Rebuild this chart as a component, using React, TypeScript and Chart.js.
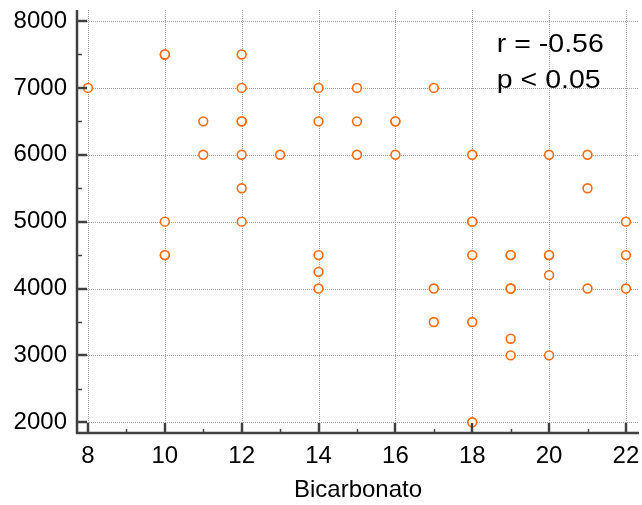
import React, { useEffect, useRef } from "react";
import { Chart, registerables } from "chart.js";

Chart.register(...registerables);

// Data: (Bicarbonato, value) pairs
const bicarbonato = [
  8,
  10, 10, 10, 10, 10,
  11, 11,
  12, 12, 12, 12, 12, 12, 12,
  13,
  14, 14, 14, 14, 14,
  15, 15, 15,
  16, 16, 16,
  17, 17, 17,
  18, 18, 18, 18, 18, 18,
  19, 19, 19, 19, 19, 19,
  20, 20, 20, 20, 20,
  21, 21, 21,
  22, 22, 22,
];
const valores = [
  7000,
  7500, 7500, 5000, 4500, 4500,
  6500, 6000,
  7500, 7000, 6500, 6500, 6000, 5500, 5000,
  6000,
  7000, 6500, 4500, 4250, 4000,
  7000, 6500, 6000,
  6500, 6500, 6000,
  7000, 4000, 3500,
  6000, 5000, 5000, 4500, 3500, 2000,
  4500, 4500, 4000, 4000, 3250, 3000,
  6000, 4500, 4500, 4200, 3000,
  6000, 5500, 4000,
  5000, 4500, 4000,
];

const X_TICKS = [8, 10, 12, 14, 16, 18, 20, 22];
const Y_TICKS = [2000, 3000, 4000, 5000, 6000, 7000, 8000];
const X_MINOR_TICKS = [9, 11, 13, 15, 17, 19, 21];
const Y_MINOR_TICKS = [2500, 3500, 4500, 5500, 6500, 7500];
const X_MIN = 7.714;
const X_MAX = 22.34;
const Y_MIN = 1840;
const Y_MAX = 8165;

const xTitle = "Bicarbonato";
const annotationLines = ["r = -0.56", "p < 0.05"];
const annotationX = 18.64; // data units
const annotationY = [7540, 7000]; // baselines, data units

const ORANGE = "#ff6a0d";
const AXIS = "#404040";
const GRID = "#a0a0a0";
const FONT = "'Liberation Sans', Arial, sans-serif";

const decoPlugin = {
  id: "deco",
  beforeDatasetsDraw(chart: any) {
    const { ctx, chartArea: a, scales } = chart;
    const x = scales.x;
    const y = scales.y;
    ctx.save();
    ctx.strokeStyle = GRID;
    ctx.lineWidth = 1;
    ctx.setLineDash([1, 1]);
    for (const v of X_TICKS) {
      const px = Math.round(x.getPixelForValue(v)) + 0.5;
      ctx.beginPath();
      ctx.moveTo(px, a.top);
      ctx.lineTo(px, a.bottom);
      ctx.stroke();
    }
    for (const v of Y_TICKS) {
      const py = Math.round(y.getPixelForValue(v)) + 0.5;
      ctx.beginPath();
      ctx.moveTo(a.left, py);
      ctx.lineTo(a.right, py);
      ctx.stroke();
    }
    ctx.restore();
  },
  afterDatasetsDraw(chart: any) {
    const { ctx, chartArea: a, scales } = chart;
    const x = scales.x;
    const y = scales.y;
    ctx.save();
    ctx.setLineDash([]);
    ctx.strokeStyle = AXIS;
    // minor ticks
    ctx.lineWidth = 1.5;
    for (const v of X_MINOR_TICKS) {
      const px = Math.round(x.getPixelForValue(v)) + 0.5;
      ctx.beginPath();
      ctx.moveTo(px, a.bottom);
      ctx.lineTo(px, a.bottom - 4);
      ctx.stroke();
    }
    for (const v of Y_MINOR_TICKS) {
      const py = Math.round(y.getPixelForValue(v)) + 0.5;
      ctx.beginPath();
      ctx.moveTo(a.left, py);
      ctx.lineTo(a.left + 5, py);
      ctx.stroke();
    }
    // major ticks
    ctx.lineWidth = 2.5;
    for (const v of X_TICKS) {
      const px = Math.round(x.getPixelForValue(v));
      ctx.beginPath();
      ctx.moveTo(px, a.bottom);
      ctx.lineTo(px, a.bottom - 10);
      ctx.stroke();
    }
    for (const v of Y_TICKS) {
      const py = Math.round(y.getPixelForValue(v));
      ctx.beginPath();
      ctx.moveTo(a.left, py);
      ctx.lineTo(a.left + 10, py);
      ctx.stroke();
    }
    // axis lines
    ctx.lineWidth = 2.5;
    ctx.beginPath();
    ctx.moveTo(a.left, a.top);
    ctx.lineTo(a.left, a.bottom);
    ctx.lineTo(a.right, a.bottom);
    ctx.stroke();
    // annotation
    ctx.fillStyle = "#000";
    ctx.font = `25px ${FONT}`;
    ctx.textAlign = "left";
    ctx.textBaseline = "alphabetic";
    const ax = x.getPixelForValue(annotationX);
    annotationLines.forEach((line, i) => {
      const ay = y.getPixelForValue(annotationY[i]);
      ctx.save();
      ctx.translate(ax, ay);
      ctx.scale(1.14, 1);
      ctx.fillText(line, 0, 0);
      ctx.restore();
    });
    ctx.restore();
  },
};

export default function App() {
  const ref = useRef<HTMLCanvasElement | null>(null);
  useEffect(() => {
    if (!ref.current) return;
    const points = bicarbonato.map((b, i) => ({ x: b, y: valores[i] }));
    const chart = new Chart(ref.current, {
      type: "scatter",
      data: {
        datasets: [
          {
            data: points,
            backgroundColor: "#ffffff",
            borderColor: ORANGE,
            borderWidth: 1.6,
            pointRadius: 4.4,
            pointHoverRadius: 4.4,
          },
        ],
      },
      options: {
        animation: false,
        responsive: false,
        maintainAspectRatio: false,
        layout: { autoPadding: false, padding: { left: 0, top: 10, right: 3, bottom: 0 } },
        plugins: {
          legend: { display: false },
          tooltip: { enabled: false },
        },
        scales: {
          x: {
            type: "linear",
            min: X_MIN,
            max: X_MAX,
            grid: { display: false, drawTicks: false },
            border: { display: false },
            afterBuildTicks(scale: any) {
              scale.ticks = X_TICKS.map((v) => ({ value: v }));
            },
            ticks: {
              padding: 9,
              color: "#000",
              font: { family: FONT, size: 24 },
              maxRotation: 0,
              autoSkip: false,
              callback: (v: any) => String(v),
            },
            title: {
              display: true,
              text: xTitle,
              color: "#000",
              font: { family: FONT, size: 24 },
              padding: 0,
            },
            afterFit(scale: any) {
              scale.height = 72;
              scale.paddingLeft = 0;
              scale.paddingRight = 0;
            },
          },
          y: {
            type: "linear",
            min: Y_MIN,
            max: Y_MAX,
            grid: { display: false, drawTicks: false },
            border: { display: false },
            afterBuildTicks(scale: any) {
              scale.ticks = Y_TICKS.map((v) => ({ value: v }));
            },
            ticks: {
              padding: 10,
              color: "#000",
              font: { family: FONT, size: 24 },
              autoSkip: false,
              callback: (v: any) => String(v),
            },
            afterFit(scale: any) {
              scale.width = 77;
              scale.paddingTop = 0;
              scale.paddingBottom = 0;
            },
          },
        },
      },
      plugins: [decoPlugin],
    });
    return () => chart.destroy();
  }, []);
  return (
    <div style={{ position: "fixed", left: 0, top: 0, width: 642, height: 505, background: "#fff" }}>
      <canvas ref={ref} width={642} height={505} style={{ display: "block" }} />
    </div>
  );
}
